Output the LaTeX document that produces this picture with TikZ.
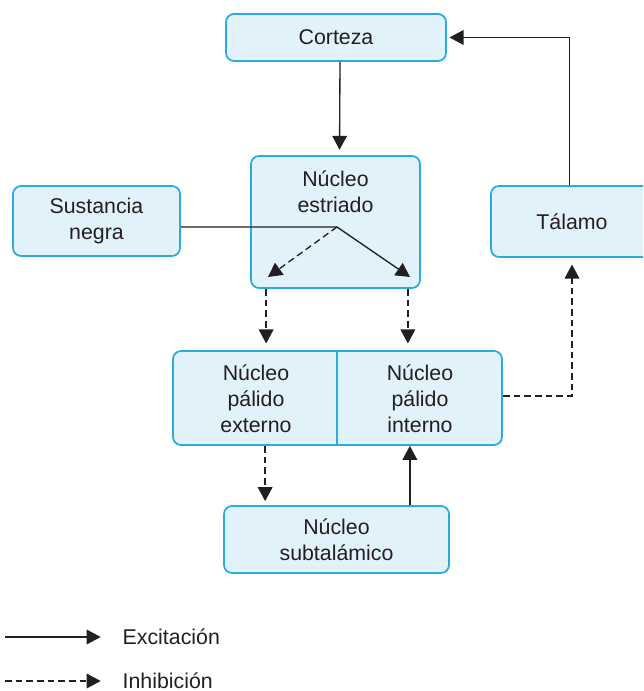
\documentclass[tikz,border=0pt]{standalone}
\usepackage{fontspec}
\setmainfont{Liberation Sans}
\usetikzlibrary{arrows.meta, calc}
\definecolor{cline}{HTML}{231F20}
\definecolor{cbox}{HTML}{29ABE2}
\definecolor{cfill}{HTML}{E1F2FB}
\tikzset{
  every picture/.style={line width=1pt},
  box/.style={draw=cbox, fill=cfill, rounded corners=6pt, line width=1.3pt, inner sep=0pt},
  txt/.style={text=cline, align=center, inner sep=0pt, font=\fontsize{16}{19.5}\selectfont},
  exc/.style={-{Triangle[length=10.5pt, width=11pt]}, draw=cline},
  inh/.style={exc, dash pattern=on 5pt off 3pt},
}

\begin{document}
\begin{tikzpicture}[x=0.75pt, y=-0.75pt]
  \path[use as bounding box, clip] (0,0) rectangle (643,691);

  % boxes
  \node[box, minimum width=165pt, minimum height=35.25pt] (corteza) at (336,37.5) {};
  \node[txt] (cortezatxt) at (corteza) {Corteza};
  \node[box, minimum width=126.75pt, minimum height=99pt] (estriado) at (335.5,222) {};
  \node[txt] (estriadotxt) at (335.5,192) {Núcleo\\estriado};
  \node[box, minimum width=125.25pt, minimum height=52.5pt] (negra) at (96.5,221) {};
  \node[txt] (negratxt) at (negra) {Sustancia\\negra};
  \node[box, minimum width=121.5pt, minimum height=53.25pt] (talamo) at (572,221.5) {};
  \node[txt] (talamotxt) at (talamo) {Tálamo};
  \node[box, minimum width=246.75pt, minimum height=70.5pt] (palido) at (337.5,398) {};
  \draw[cbox, line width=1.3pt] (337,351) -- (337,445);
  \node[txt] (pext) at (256,399) {Núcleo\\pálido\\externo};
  \node[txt] (pint) at (420,399) {Núcleo\\pálido\\interno};
  \node[box, minimum width=168.75pt, minimum height=50.25pt] (subtal) at (336.5,539.5) {};
  \node[txt] (subtaltxt) at (subtal) {Núcleo\\subtalámico};

  % connections
  \draw[exc, shorten >=4pt] ([xshift=3pt]corteza.south) -- ([xshift=3pt]estriado.north);
  \draw[exc, shorten >=2pt] ([xshift=-2pt]talamo.north) |- (corteza.east);
  \coordinate (split) at (337,227);
  \coordinate (splitA) at (268,277);
  \coordinate (splitB) at (410,277);
  \draw[exc] (negra.east |- split) -- (split) -- (splitB);
  \draw[inh] (split) -- (splitA);
  \draw[inh, shorten >=5pt] ([xshift=12pt]estriado.south west) -- ([xshift=12pt]estriado.south west |- palido.north);
  \draw[inh, shorten >=5pt] ([xshift=-9.75pt]estriado.south east) -- ([xshift=-9.75pt]estriado.south east |- palido.north);
  \draw[inh, shorten >=5pt] ([yshift=1.5pt]palido.east) -| (talamo.south);
  \draw[inh, shorten >=3pt] ([xshift=31.5pt]subtal.north west |- palido.south) -- ([xshift=31.5pt]subtal.north west);
  \draw[exc] ([xshift=-30pt]subtal.north east) -- ([xshift=-30pt]subtal.north east |- palido.south);

  % legend
  \node[txt, anchor=west] (exctxt) at (122,637) {Excitación};
  \node[txt, anchor=west] (inhtxt) at (122,681) {Inhibición};
  \coordinate (excA) at (5,637);
  \coordinate (inhA) at (5,681);
  \draw[exc, shorten >=16pt] (excA) -- (exctxt.west);
  \draw[inh, shorten >=16pt] (inhA) -- (inhtxt.west);
\end{tikzpicture}
\end{document}
